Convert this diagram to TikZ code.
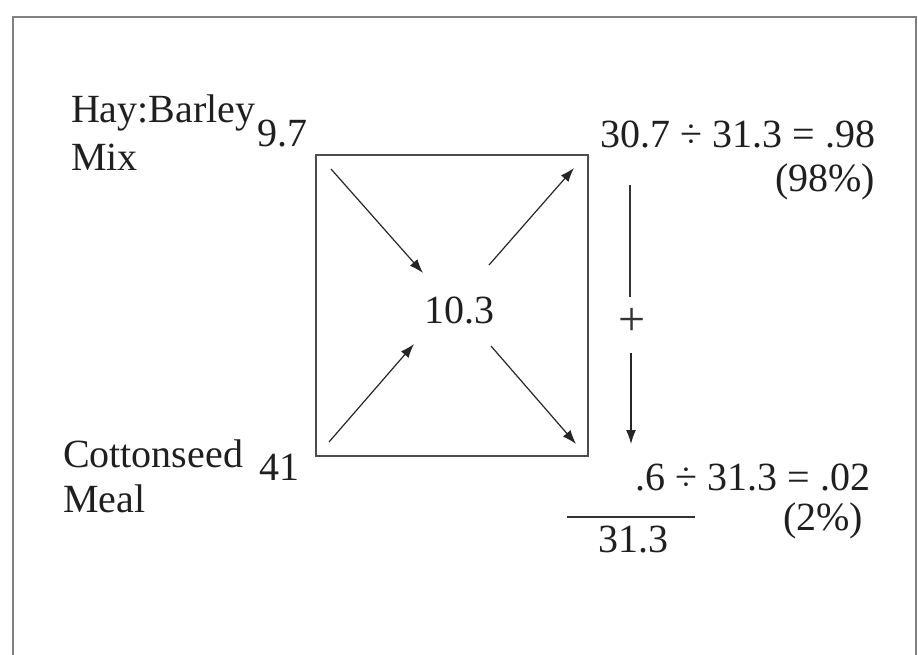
\documentclass[tikz,border=0pt]{standalone}
\usepackage{fontspec}
\setmainfont{Liberation Serif}
\usetikzlibrary{arrows.meta}
\begin{document}
\begin{tikzpicture}[x=1pt,y=-1pt,
  txt/.style={inner sep=0pt,outer sep=0pt,text=black!88,font=\fontsize{40}{48}\selectfont},
  arr/.style={line width=1.2pt,draw=black!85,-{Latex[length=14pt,width=10pt]}},
  plain/.style={line width=1.2pt,draw=black!80},
  frame/.style={line width=1.6pt,draw=black!50}]
\useasboundingbox (0,0) rectangle (918,655);
\draw[frame] (13,655) -- (13,17) -- (916,17) -- (916,655);
% central square
\node[draw=black!70,line width=1.4pt,minimum width=272pt,minimum height=301pt,inner sep=0pt] (sq) at (452,305.5) {};
% texts
\node[txt,anchor=base west] (hay) at (71,123) {Hay:Barley};
\node[txt,anchor=base west] (mix) at (71,171) {Mix};
\node[txt,anchor=base west] (v97) at (257,147) {9.7};
\node[txt,anchor=base west] (cot) at (63,467) {Cottonseed};
\node[txt,anchor=base west] (meal) at (63,512) {Meal};
\node[txt,anchor=base west] (v41) at (259,480) {41};
\node[txt,anchor=base west] (mid) at (424,323) {10.3};
\node[txt,anchor=base east] (eq1) at (875,148) {30.7 ÷ 31.3 = .98};
\node[txt,anchor=base east] (p1) at (875,192) {(98\%)};
\node[txt,anchor=base east] (eq2) at (870,490) {.6 ÷ 31.3 = .02};
\node[txt,anchor=base east] (p2) at (863,530) {(2\%)};
\node[txt,anchor=base west] (tot) at (598,552) {31.3};
\node[inner sep=0pt,text=black!80,font=\fontsize{48}{54}\selectfont] (plus) at (632,322) {+};
% arrow end points
\coordinate (a1s) at (331,169); \coordinate (a1e) at (423,273);
\coordinate (a2s) at (329,442); \coordinate (a2e) at (414,344);
\coordinate (a3s) at (489,265); \coordinate (a3e) at (574,168);
\coordinate (a4s) at (491,346); \coordinate (a4e) at (576,444);
\coordinate (v1s) at (630,185); \coordinate (v1e) at (630,297);
\coordinate (v2s) at (631,353); \coordinate (v2e) at (631,444);
\coordinate (hs) at (567,517); \coordinate (he) at (695,517);
\draw[arr] (a1s) -- (a1e);
\draw[arr] (a2s) -- (a2e);
\draw[arr] (a3s) -- (a3e);
\draw[arr] (a4s) -- (a4e);
\draw[plain] (v1s) -- (v1e);
\draw[arr] (v2s) -- (v2e);
\draw[plain] (hs) -- (he);
\end{tikzpicture}
\end{document}
